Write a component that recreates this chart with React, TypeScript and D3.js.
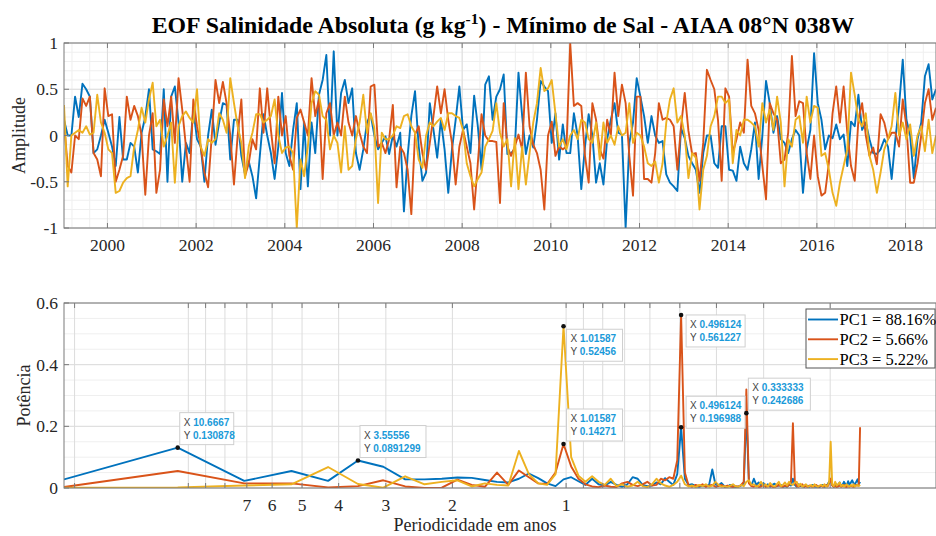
import React from 'react';
import * as d3 from 'd3';

// ---------------- DATA ----------------
const START_YEAR = 1999.02; // first monthly sample (Jan 1999)
const MONTHS_PER_YEAR = 12;

const pc1Amplitude = [
  0.17, 0.0, 0.0, 0.42, 0.2, 0.56, 0.5, 0.42, -0.19, -0.15,
  0.0, 0.17, 0.03, -0.12, -0.33, 0.2, -0.26, -0.26, -0.08, -0.12,
  -0.4, 0.03, 0.2, 0.5, -0.15, -0.17, -0.2, 0.5, -0.5, 0.42,
  0.53, 0.14, -0.5, -0.08, -0.19, 0.28, -0.04, -0.12, -0.5, 0.0,
  0.28, -0.1, 0.14, 0.35, 0.33, -0.26, 0.17, 0.17, -0.22, -0.42,
  -0.28, -0.44, -0.68, -0.22, 0.23, 0.0, -0.19, -0.47, -0.12, 0.46,
  -0.19, -0.33, 0.06, 0.35, -0.58, 0.14, -0.55, 0.14, -0.19, 0.44,
  0.6, 0.87, 0.0, 0.91, 0.0, 0.46, 0.6, 0.35, 0.51, -0.19,
  -0.37, -0.15, 0.14, 0.23, 0.0, -0.15, -0.08, -0.01, -0.2, 0.0,
  -0.12, 0.03, -0.82, -0.22, 0.21, 0.48, -0.12, -0.49, -0.4, 0.35,
  0.06, -0.24, 0.17, -0.15, -0.62, -0.15, 0.17, 0.53, 0.06, 0.12,
  -0.19, 0.43, 0.1, -0.37, 0.55, 0.64, 0.17, 0.42, 0.5, 0.66,
  -0.2, -0.19, -0.15, 0.68, 0.21, -0.2, 0.0, -0.13, 0.17, 0.59,
  0.53, 0.48, -0.08, 0.24, -0.26, 0.12, -0.19, -0.19, 0.24, 0.0,
  -0.58, -0.12, 0.23, 0.0, -0.51, -0.3, -0.53, -0.04, 0.17, 0.35,
  0.03, 0.01, -1.0, -0.08, 0.14, 0.62, 0.42, 0.21, -0.08, 0.21,
  0.0, -0.08, -0.06, -0.42, -0.51, -0.55, -0.6, 0.08, -0.03, -0.22,
  -0.3, -0.37, -0.62, -0.19, 0.0, 0.0, -0.3, -0.35, 0.1, 0.1,
  -0.37, -0.38, -0.49, -0.12, -0.3, -0.37, -0.15, 0.14, -0.47, 0.0,
  0.59, 0.35, 0.03, 0.21, -0.04, -0.08, -0.19, -0.04, 0.06, 0.0,
  -0.62, -0.15, 0.06, 0.89, 0.35, 0.17, -0.15, 0.0, -0.03, 0.12,
  -0.04, 0.01, -0.33, 0.15, 0.1, 0.44, 0.06, 0.14, -0.04, -0.19,
  -0.2, -0.15, -0.04, -0.12, -0.47, -0.04, 0.32, 0.82, 0.17, 0.0,
  -0.46, -0.04, 0.14, 0.64, 0.77, 0.39, 0.5,
];

const pc2Amplitude = [
  0.14, -0.33, -0.4, 0.0, -0.04, 0.4, 0.32, 0.42, -0.19, -0.26,
  -0.44, 0.51, 0.21, 0.23, -0.5, -0.37, -0.22, 0.42, 0.17, 0.32,
  0.21, 0.0, -0.64, 0.0, 0.24, -0.62, -0.37, 0.39, 0.1, 0.42,
  -0.08, 0.62, 0.28, -0.12, -0.5, 0.39, 0.1, -0.12, -0.4, -0.56,
  0.0, 0.6, 0.35, 0.58, 0.35, 0.0, -0.53, 0.0, 0.39, -0.44,
  -0.3, -0.04, -0.15, 0.51, 0.03, 0.51, 0.06, -0.3, 0.42, 0.0,
  0.21, -0.22, -0.37, 0.19, 0.28, 0.14, 0.0, 0.62, 0.21, 0.39,
  -0.47, 0.24, 0.35, 0.0, 0.14, 0.0, 0.42, 0.14, 0.0, 0.21,
  0.03, -0.12, -0.19, 0.53, 0.55, -0.12, -0.08, -0.19, -0.04, 0.33,
  -0.56, -0.12, -0.19, -0.37, -0.85, 0.01, 0.1, -0.19, -0.37, -0.08,
  0.21, 0.53, 0.24, 0.5, 0.17, -0.08, -0.53, -0.12, 0.06, -0.12,
  -0.3, -0.8, -0.3, 0.23, 0.0, -0.06, -0.06, -0.07, -0.73, 0.35,
  -0.12, -0.22, -0.12, 0.01, -0.15, 0.68, 0.1, -0.1, -0.19, -0.37,
  -0.8, 0.0, 0.15, -0.22, -0.12, -0.15, -0.12, 1.0, 0.32, 0.35,
  0.32, -0.22, -0.51, 0.35, 0.17, -0.15, -0.25, 0.17, 0.0, 0.68,
  0.21, 0.55, 0.35, -0.22, -0.65, 0.42, 0.42, -0.47, -0.47, -0.51,
  -0.19, 0.35, 0.17, 0.19, 0.17, 0.1, -0.37, 0.1, 0.46, 0.05,
  -0.2, -0.19, -0.49, -0.08, 0.71, 0.6, 0.5, 0.17, -0.49, 0.51,
  0.42, -0.19, -0.04, 0.14, 0.03, 0.82, 0.32, 0.24, 0.06, -0.33,
  -0.69, 0.35, 0.24, 0.17, -0.3, -0.26, 0.03, 0.86, 0.21, 0.37,
  0.35, -0.19, -0.47, 0.0, -0.44, -0.65, -0.62, -0.3, 0.24, 0.53,
  0.14, 0.53, 0.03, -0.33, -0.49, 0.17, 0.35, 0.0, -0.22, -0.13,
  -0.31, 0.23, 0.14, -0.04, 0.03, 0.03, -0.12, 0.39, 0.1, -0.51,
  -0.51, -0.3, 0.0, 0.35, 0.5, 0.17, 0.3,
];

const pc3Amplitude = [
  0.33, -0.55, 0.0, 0.03, 0.06, 0.03, 0.1, 0.01, 0.03, 0.44,
  0.14, 0.03, -0.15, -0.19, -0.62, -0.6, -0.51, -0.46, -0.44, -0.12,
  0.06, 0.3, 0.14, 0.39, 0.57, 0.1, 0.17, -0.12, 0.0, 0.14,
  -0.51, 0.1, 0.21, 0.26, 0.19, 0.14, 0.5, -0.12, -0.22, -0.04,
  -0.08, -0.04, 0.24, 0.17, 0.03, 0.62, 0.35, 0.1, -0.08, -0.46,
  -0.12, 0.03, 0.23, 0.23, 0.14, 0.17, 0.21, 0.39, 0.0, -0.19,
  -0.13, -0.12, -0.19, -1.0, -0.26, -0.44, -0.12, 0.35, 0.48, 0.44,
  0.21, 0.17, -0.15, 0.0, -0.08, -0.4, 0.1, -0.37, -0.33, -0.04,
  0.14, 0.44, 0.03, 0.24, 0.08, -0.73, 0.03, -0.04, -0.04, 0.0,
  0.1, 0.08, 0.21, 0.23, 0.1, 0.03, -0.26, -0.35, 0.0, 0.14,
  0.1, 0.15, 0.19, 0.06, 0.24, 0.24, 0.21, 0.19, 0.06, -0.3,
  -0.44, -0.55, -0.47, -0.4, -0.12, -0.04, 0.05, 0.35, 0.03, -0.12,
  -0.04, -0.55, -0.03, -0.58, -0.12, -0.53, -0.19, 0.14, 0.35, 0.73,
  0.48, 0.51, 0.6, 0.24, -0.12, -0.04, -0.15, 0.0, 0.06, -0.04,
  0.17, 0.14, -0.04, -0.08, 0.14, -0.26, 0.14, -0.08, 0.0, -0.1,
  0.1, 0.0, 0.03, 0.35, -0.08, 0.03, 0.0, -0.12, -0.3, -0.33,
  -0.28, -0.51, -0.3, 0.14, 0.39, 0.51, 0.14, 0.21, 0.0, -0.46,
  -0.19, -0.24, -0.8, -0.37, -0.22, 0.1, 0.21, 0.42, 0.42, 0.35,
  0.39, -0.3, 0.06, 0.0, 0.17, 0.17, 0.14, 0.1, -0.12, 0.35,
  0.14, 0.28, 0.06, 0.42, 0.14, -0.55, -0.04, -0.12, 0.17, 0.21,
  -0.08, 0.42, 0.14, 0.32, 0.3, -0.22, -0.19, -0.37, -0.62, -0.76,
  -0.51, -0.33, -0.15, 0.68, 0.44, 0.17, 0.1, 0.24, -0.22, -0.37,
  -0.62, -0.4, -0.15, -0.04, 0.1, 0.46, 0.0, 0.14, -0.04, 0.12,
  -0.22, 0.0, 0.1, -0.17, 0.17, -0.19, 0.0,
];

const yearTicks = [2000, 2002, 2004, 2006, 2008, 2010, 2012, 2014, 2016, 2018];
const amplitudeTicks = [-1, -0.5, 0, 0.5, 1];
const amplitudeTickLabels = ['-1', '-0.5', '0', '0.5', '1'];

// Spectrum: FFT bins k = 1..128 of a 256-point transform of monthly series
const NFFT = 256;

const pc1Power = [
  0.028, 0.1309, 0.023, 0.055, 0.023, 0.0891, 0.069, 0.028, 0.028, 0.03,
  0.034, 0.033, 0.026, 0.02, 0.018, 0.03, 0.047, 0.032, 0.015, 0.006,
  0.028, 0.035, 0.022, 0.01, 0.03, 0.012, 0.008, 0.02, 0.01, 0.004,
  0.012, 0.035, 0.03, 0.01, 0.006, 0.008, 0.018, 0.012, 0.032, 0.02,
  0.01, 0.045, 0.197, 0.03, 0.01, 0.012, 0.006, 0.004, 0.008, 0.005,
  0.01, 0.06, 0.012, 0.008, 0.016, 0.005, 0.004, 0.01, 0.006, 0.003,
  0.005, 0.008, 0.015, 0.2427, 0.02, 0.008, 0.03, 0.01, 0.018, 0.008,
  0.016, 0.005, 0.012, 0.004, 0.01, 0.014, 0.006, 0.008, 0.01, 0.004,
  0.006, 0.004, 0.01, 0.008, 0.03, 0.01, 0.004, 0.012, 0.006, 0.008,
  0.004, 0.01, 0.006, 0.004, 0.008, 0.01, 0.005, 0.004, 0.006, 0.003,
  0.008, 0.01, 0.004, 0.006, 0.012, 0.02, 0.03, 0.01, 0.004, 0.008,
  0.012, 0.006, 0.018, 0.008, 0.01, 0.02, 0.012, 0.008, 0.022, 0.01,
  0.018, 0.025, 0.015, 0.012, 0.02, 0.028, 0.012, 0.02,
];

const pc2Power = [
  0.003, 0.055, 0.015, 0.015, 0.002, 0.006, 0.025, 0.005, 0.0, 0.001,
  0.027, 0.01, 0.004, 0.05, 0.01, 0.057, 0.035, 0.015, 0.013, 0.05,
  0.1427, 0.07, 0.03, 0.012, 0.005, 0.003, 0.008, 0.004, 0.003, 0.015,
  0.02, 0.01, 0.006, 0.012, 0.02, 0.008, 0.01, 0.03, 0.025, 0.035,
  0.03, 0.09, 0.5612, 0.05, 0.008, 0.004, 0.01, 0.006, 0.012, 0.004,
  0.008, 0.01, 0.004, 0.006, 0.01, 0.004, 0.008, 0.005, 0.003, 0.006,
  0.004, 0.01, 0.02, 0.32, 0.015, 0.006, 0.004, 0.008, 0.003, 0.005,
  0.01, 0.004, 0.006, 0.008, 0.004, 0.003, 0.006, 0.01, 0.005, 0.004,
  0.008, 0.005, 0.01, 0.02, 0.21, 0.02, 0.006, 0.004, 0.008, 0.012,
  0.004, 0.006, 0.003, 0.008, 0.005, 0.004, 0.006, 0.01, 0.004, 0.005,
  0.008, 0.004, 0.006, 0.01, 0.005, 0.015, 0.03, 0.008, 0.004, 0.006,
  0.003, 0.005, 0.008, 0.004, 0.006, 0.01, 0.004, 0.003, 0.006, 0.004,
  0.008, 0.005, 0.004, 0.006, 0.01, 0.008, 0.012, 0.197,
];

const pc3Power = [
  0.001, 0.002, 0.008, 0.012, 0.068, 0.013, 0.001, 0.038, 0.012, 0.02,
  0.025, 0.005, 0.015, 0.01, 0.008, 0.12, 0.045, 0.015, 0.01, 0.045,
  0.5246, 0.1, 0.04, 0.02, 0.038, 0.02, 0.01, 0.03, 0.006, 0.012,
  0.004, 0.008, 0.02, 0.006, 0.003, 0.012, 0.03, 0.015, 0.008, 0.004,
  0.01, 0.02, 0.04, 0.012, 0.005, 0.008, 0.003, 0.01, 0.006, 0.012,
  0.004, 0.008, 0.02, 0.01, 0.004, 0.006, 0.003, 0.008, 0.012, 0.005,
  0.004, 0.01, 0.006, 0.02, 0.025, 0.01, 0.012, 0.004, 0.008, 0.02,
  0.006, 0.012, 0.004, 0.016, 0.008, 0.004, 0.012, 0.02, 0.006, 0.01,
  0.018, 0.008, 0.02, 0.012, 0.01, 0.018, 0.02, 0.006, 0.014, 0.004,
  0.008, 0.012, 0.004, 0.006, 0.01, 0.004, 0.012, 0.006, 0.004, 0.008,
  0.01, 0.006, 0.012, 0.004, 0.008, 0.02, 0.15, 0.012, 0.006, 0.02,
  0.008, 0.012, 0.018, 0.006, 0.01, 0.004, 0.008, 0.012, 0.006, 0.004,
  0.01, 0.006, 0.012, 0.004, 0.008, 0.01, 0.006, 0.01,
];

const periodTicks = [20, 10, 9, 8, 7, 6, 5, 4, 3, 2, 1, 0.9, 0.8, 0.7, 0.6, 0.5, 0.4, 0.3, 0.2];
const periodTickLabels = [7, 6, 5, 4, 3, 2, 1];
const powerTicks = [0, 0.2, 0.4, 0.6];
const powerTickLabels = ['0', '0.2', '0.4', '0.6'];

const seriesNames = ['PC1 = 88.16%', 'PC2 = 5.66%', 'PC3 = 5.22%'];

// data tips: series index, FFT bin, displayed X / Y text
const tipSeries = [0, 0, 2, 1, 1, 0, 0];
const tipBins = [2, 6, 21, 21, 43, 43, 64];
const tipXText = ['10.6667', '3.55556', '1.01587', '1.01587', '0.496124', '0.496124', '0.333333'];
const tipYText = ['0.130878', '0.0891299', '0.52456', '0.14271', '0.561227', '0.196988', '0.242686'];

// ---------------- LAYOUT / STYLE ----------------
const COLORS = ['#0072BD', '#D95319', '#EDB120'];
const SERIF = '"Liberation Serif", "Times New Roman", serif';
const SANS = '"Liberation Sans", Arial, sans-serif';
const AXIS_COLOR = '#7a7a7a';
const TEXT_COLOR = '#262626';
const GRID_MAJOR = '#dcdcdc';
const GRID_MINOR = '#efefef';

const TOP = { l: 64, r: 936, t: 43, b: 228 };
const BOT = { l: 64, r: 936, t: 303, b: 488 };

// tip box layout (offset from marker, width, height)
const tipLayout = [
  { dx: 2, dy: -35, w: 54 },
  { dx: 2, dy: -35, w: 66 },
  { dx: 3, dy: 3, w: 56 },
  { dx: 3, dy: -35, w: 56 },
  { dx: 5, dy: 0, w: 59 },
  { dx: 5, dy: -31, w: 59 },
  { dx: 2, dy: -35, w: 62 },
];

export default function App() {
  const amplitudes = [pc1Amplitude, pc2Amplitude, pc3Amplitude];
  const powers = [pc1Power, pc2Power, pc3Power];

  const xTop = d3
    .scaleLinear()
    .domain([START_YEAR, START_YEAR + (pc1Amplitude.length - 1) / MONTHS_PER_YEAR])
    .range([TOP.l, TOP.r]);
  const yTop = d3.scaleLinear().domain([-1, 1]).range([TOP.b, TOP.t]);

  const binFreq = (k: number) => (k * MONTHS_PER_YEAR) / NFFT; // cycles per year
  const xBot = d3.scaleLog().domain([binFreq(1), 9.53]).range([BOT.l, BOT.r]);
  const yBot = d3.scaleLinear().domain([0, 0.6]).range([BOT.b, BOT.t]);

  const lineTop = d3
    .line<number>()
    .x((_, i) => xTop(START_YEAR + i / MONTHS_PER_YEAR))
    .y((v) => yTop(v));
  const lineBot = d3
    .line<number>()
    .x((_, i) => xBot(binFreq(i + 1)))
    .y((v) => yBot(v));

  // minor grids
  const topMinorX = d3.range(1999.2, 2018.7, 0.4).filter((v) => xTop(v) > TOP.l && xTop(v) < TOP.r);
  const topMinorY = d3.range(-1, 1.001, 0.1);
  const botMinorY = d3.range(0, 0.601, 0.05);

  const tickLen = 5;

  return (
    <svg width={936} height={536} style={{ display: 'block', position: 'absolute', left: 0, top: 0 }}>
      <rect width={936} height={536} fill="#ffffff" />
      <defs>
        <clipPath id="clipTop">
          <rect x={TOP.l} y={TOP.t} width={TOP.r - TOP.l} height={TOP.b - TOP.t} />
        </clipPath>
        <clipPath id="clipBot">
          <rect x={BOT.l} y={BOT.t} width={BOT.r - BOT.l} height={BOT.b - BOT.t} />
        </clipPath>
      </defs>

      {/* Title */}
      <text x={503} y={33} textAnchor="middle" fontFamily={SERIF} fontWeight="bold" fontSize={23.8} fill="#000">
        EOF Salinidade Absoluta (g kg
        <tspan dy={-9} fontSize={15.5}>-1</tspan>
        <tspan dy={9}>) - Mínimo de Sal - AIAA 08°N 038W</tspan>
      </text>

      {/* ---------- TOP PANEL ---------- */}
      <rect x={TOP.l} y={TOP.t} width={TOP.r - TOP.l} height={TOP.b - TOP.t} fill="#fff" />
      {topMinorX.map((v, i) => (
        <line key={'tmx' + i} x1={xTop(v)} x2={xTop(v)} y1={TOP.t} y2={TOP.b} stroke={GRID_MINOR} strokeWidth={1} />
      ))}
      {topMinorY.map((v, i) => (
        <line key={'tmy' + i} x1={TOP.l} x2={TOP.r} y1={yTop(v)} y2={yTop(v)} stroke={GRID_MINOR} strokeWidth={1} />
      ))}
      {yearTicks.map((v) => (
        <line key={'tgx' + v} x1={xTop(v)} x2={xTop(v)} y1={TOP.t} y2={TOP.b} stroke={GRID_MAJOR} strokeWidth={1} />
      ))}
      {amplitudeTicks.map((v) => (
        <line key={'tgy' + v} x1={TOP.l} x2={TOP.r} y1={yTop(v)} y2={yTop(v)} stroke={GRID_MAJOR} strokeWidth={1} />
      ))}
      <g clipPath="url(#clipTop)">
        {amplitudes.map((arr, s) => (
          <path key={'tl' + s} d={lineTop(arr) || ''} fill="none" stroke={COLORS[s]} strokeWidth={1.9} strokeLinejoin="round" />
        ))}
      </g>
      <rect x={TOP.l} y={TOP.t} width={TOP.r - TOP.l} height={TOP.b - TOP.t} fill="none" stroke={AXIS_COLOR} strokeWidth={1} />
      {yearTicks.map((v) => (
        <g key={'ttk' + v}>
          <line x1={xTop(v)} x2={xTop(v)} y1={TOP.b} y2={TOP.b - tickLen} stroke={AXIS_COLOR} />
          <line x1={xTop(v)} x2={xTop(v)} y1={TOP.t} y2={TOP.t + tickLen} stroke={AXIS_COLOR} />
          <text x={xTop(v)} y={TOP.b + 23} textAnchor="middle" fontFamily={SERIF} fontSize={17.5} fill={TEXT_COLOR}>
            {v}
          </text>
        </g>
      ))}
      {amplitudeTicks.map((v, i) => (
        <g key={'tyk' + v}>
          <line x1={TOP.l} x2={TOP.l + tickLen} y1={yTop(v)} y2={yTop(v)} stroke={AXIS_COLOR} />
          <text x={TOP.l - 6} y={yTop(v) + 6} textAnchor="end" fontFamily={SERIF} fontSize={17.5} fill={TEXT_COLOR}>
            {amplitudeTickLabels[i]}
          </text>
        </g>
      ))}
      <text
        transform={`translate(25, ${(TOP.t + TOP.b) / 2}) rotate(-90)`}
        textAnchor="middle"
        fontFamily={SERIF}
        fontSize={18}
        fill={TEXT_COLOR}
      >
        Amplitude
      </text>

      {/* ---------- BOTTOM PANEL ---------- */}
      {botMinorY.map((v, i) => (
        <line key={'bmy' + i} x1={BOT.l} x2={BOT.r} y1={yBot(v)} y2={yBot(v)} stroke={GRID_MINOR} strokeWidth={1} />
      ))}
      {periodTicks.map((p) => (
        <line key={'bgx' + p} x1={xBot(1 / p)} x2={xBot(1 / p)} y1={BOT.t} y2={BOT.b} stroke={GRID_MAJOR} strokeWidth={1} />
      ))}
      {powerTicks.map((v) => (
        <line key={'bgy' + v} x1={BOT.l} x2={BOT.r} y1={yBot(v)} y2={yBot(v)} stroke={GRID_MAJOR} strokeWidth={1} />
      ))}
      <g clipPath="url(#clipBot)">
        {powers.map((arr, s) => (
          <path key={'bl' + s} d={lineBot(arr) || ''} fill="none" stroke={COLORS[s]} strokeWidth={1.9} strokeLinejoin="round" />
        ))}
      </g>
      <rect x={BOT.l} y={BOT.t} width={BOT.r - BOT.l} height={BOT.b - BOT.t} fill="none" stroke={AXIS_COLOR} strokeWidth={1} />
      {periodTicks.map((p) => (
        <g key={'btk' + p}>
          <line x1={xBot(1 / p)} x2={xBot(1 / p)} y1={BOT.b} y2={BOT.b - tickLen} stroke={AXIS_COLOR} />
          <line x1={xBot(1 / p)} x2={xBot(1 / p)} y1={BOT.t} y2={BOT.t + tickLen} stroke={AXIS_COLOR} />
        </g>
      ))}
      {periodTickLabels.map((p) => (
        <text key={'bxl' + p} x={xBot(1 / p)} y={BOT.b + 23} textAnchor="middle" fontFamily={SERIF} fontSize={17.5} fill={TEXT_COLOR}>
          {p}
        </text>
      ))}
      {powerTicks.map((v, i) => (
        <g key={'byk' + v}>
          <line x1={BOT.l} x2={BOT.l + tickLen} y1={yBot(v)} y2={yBot(v)} stroke={AXIS_COLOR} />
          <text x={BOT.l - 6} y={yBot(v) + 6} textAnchor="end" fontFamily={SERIF} fontSize={17.5} fill={TEXT_COLOR}>
            {powerTickLabels[i]}
          </text>
        </g>
      ))}
      <text
        transform={`translate(30, ${(BOT.t + BOT.b) / 2}) rotate(-90)`}
        textAnchor="middle"
        fontFamily={SERIF}
        fontSize={18}
        fill={TEXT_COLOR}
      >
        Potência
      </text>
      <text x={475} y={531} textAnchor="middle" fontFamily={SERIF} fontSize={18} fill={TEXT_COLOR}>
        Periodicidade em anos
      </text>

      {/* data tips */}
      {tipBins.map((k, i) => {
        const mx = xBot(binFreq(k));
        const yv = powers[tipSeries[i]][k - 1];
        const my = yBot(yv);
        const L = tipLayout[i];
        const bx = mx + L.dx;
        const by = my + L.dy;
        return (
          <g key={'tip' + i}>
            <rect x={bx} y={by} width={L.w} height={32} fill="#ffffff" fillOpacity={0.92} stroke="#cfcfcf" strokeWidth={1} />
            <text x={bx + 4} y={by + 13} fontFamily={SANS} fontSize={10} fill="#444">
              X <tspan fontWeight="bold" fill="#1a9ad9">{tipXText[i]}</tspan>
            </text>
            <text x={bx + 4} y={by + 26} fontFamily={SANS} fontSize={10} fill="#444">
              Y <tspan fontWeight="bold" fill="#1a9ad9">{tipYText[i]}</tspan>
            </text>
            <circle cx={mx} cy={my} r={2.3} fill="#111" />
          </g>
        );
      })}

      {/* legend */}
      <rect x={806} y={309} width={129} height={59} fill="#fff" stroke="#555" strokeWidth={1} />
      {seriesNames.map((name, i) => (
        <g key={'lg' + i}>
          <line x1={808} x2={838} y1={319.5 + i * 19.8} y2={319.5 + i * 19.8} stroke={COLORS[i]} strokeWidth={1.9} />
          <text x={839.5} y={325 + i * 19.8} fontFamily={SERIF} fontSize={16.5} fill="#000">
            {name}
          </text>
        </g>
      ))}
    </svg>
  );
}
